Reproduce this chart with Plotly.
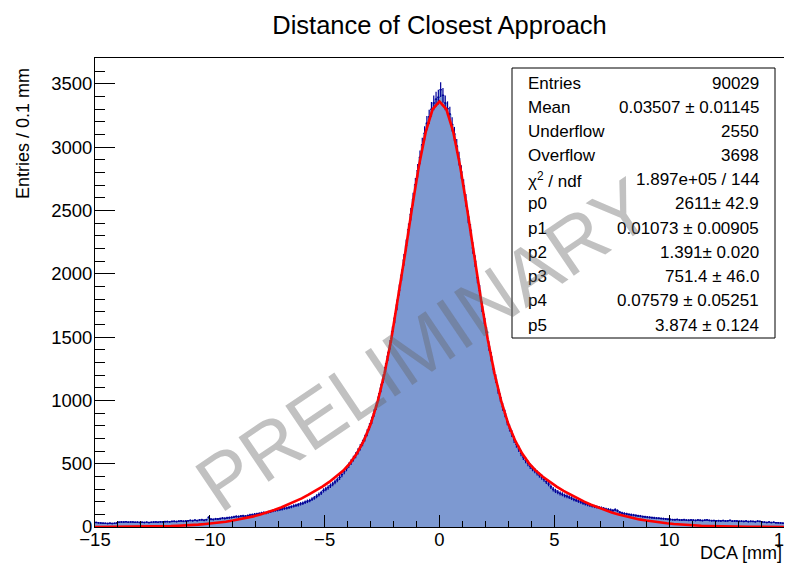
import numpy as np
import plotly.graph_objects as go

# ---------------- data ----------------
bin_lo, bin_hi, bin_w = -15.0, 15.0, 0.1

# counts per 0.1 mm bin, from -15 to 15 (300 bins, groups of 1 mm)
counts = [
    36, 33, 31, 30, 29, 28, 30, 28, 29, 32,
    38, 40, 39, 41, 38, 40, 39, 37, 38, 36,
    37, 36, 38, 35, 37, 39, 40, 38, 41, 40,
    42, 43, 41, 44, 45, 43, 46, 48, 45, 47,
    49, 52, 50, 54, 51, 55, 57, 53, 58, 76,
    62, 60, 64, 63, 66, 70, 68, 72, 74, 76,
    79, 83, 82, 86, 88, 85, 90, 94, 97, 100,
    103, 106, 110, 113, 112, 118, 122, 127, 131, 135,
    139, 142, 148, 150, 155, 160, 166, 171, 176, 183,
    188, 196, 203, 209, 220, 230, 243, 256, 270, 289,
    300, 312, 326, 340, 356, 372, 392, 414, 438, 462,
    488, 512, 540, 566, 597, 630, 664, 702, 745, 792,
    842, 900, 958, 1026, 1098, 1172, 1260, 1348, 1440, 1545,
    1650, 1755, 1872, 1990, 2110, 2225, 2350, 2470, 2590, 2705,
    2815, 2920, 3020, 3110, 3190, 3240, 3300, 3350, 3380, 3395,
    3455, 3410, 3350, 3305, 3262, 3180, 3105, 3010, 2910, 2805,
    2695, 2580, 2450, 2345, 2205, 2100, 1970, 1868, 1740, 1645,
    1540, 1430, 1345, 1248, 1172, 1085, 1022, 950, 896, 832,
    782, 738, 690, 652, 618, 583, 552, 526, 503, 480,
    462, 445, 428, 410, 394, 376, 358, 340, 318, 298,
    285, 275, 266, 258, 248, 243, 236, 228, 218, 212,
    205, 198, 190, 184, 178, 172, 166, 162, 158, 154,
    150, 146, 141, 138, 134, 130, 136, 128, 116, 110,
    106, 103, 99, 96, 94, 91, 88, 86, 82, 80,
    78, 76, 74, 72, 70, 69, 67, 66, 64, 62,
    60, 58, 57, 59, 56, 55, 57, 54, 53, 55,
    54, 52, 55, 53, 51, 54, 56, 52, 50, 51,
    49, 50, 48, 51, 47, 49, 52, 46, 48, 47,
    45, 46, 44, 47, 43, 45, 44, 42, 46, 44,
    40, 38, 36, 39, 35, 37, 34, 33, 32, 30,
]

# red fit curve, read at 101 points from -15 to 15 (step 0.3)
fit_curve = [
    0.4, 0.6, 0.8, 1.0, 1.3, 1.7, 2.3, 3, 4, 5,
    6, 8, 10, 12, 15, 19, 24, 29, 35, 42,
    51, 60, 72, 84, 99, 115, 134, 154, 176, 200,
    226, 255, 285, 319, 356, 397, 444, 503, 580, 680,
    811, 986, 1209, 1484, 1804, 2157, 2516, 2849, 3121, 3300,
    3362,
    3300, 3121, 2849, 2516, 2157, 1804, 1484, 1209, 986, 811,
    680, 580, 503, 444, 397, 356, 319, 285, 255, 226,
    200, 176, 154, 134, 115, 99, 84, 72, 60, 51,
    42, 35, 29, 24, 19, 15, 12, 10, 8, 6,
    5, 4, 3, 2.3, 1.7, 1.3, 1.0, 0.8, 0.6, 0.4,
]

stat_labels = ["Entries", "Mean", "Underflow", "Overflow", "χ<sup>2</sup> / ndf",
               "p0", "p1", "p2", "p3", "p4", "p5"]
stat_values = ["90029", "0.03507 ± 0.01145", "2550", "3698", "1.897e+05 / 144",
               "2611± 42.9", "0.01073 ± 0.00905", "1.391± 0.020", "751.4 ± 46.0",
               "0.07579 ± 0.05251", "3.874 ± 0.124"]

title = "Distance of Closest Approach"
x_title = "DCA [mm]"
y_title = "Entries / 0.1 mm"
watermark = "PRELIMINARY"

# ---------------- figure ----------------
counts_arr = np.array(counts, dtype=float)
n_bins = len(counts)
edges = bin_lo + bin_w * np.arange(n_bins + 1)
centers = edges[:-1] + bin_w / 2
fit_x = np.linspace(bin_lo, bin_hi, len(fit_curve))

FONT = "Liberation Sans, Arial, Helvetica, sans-serif"
FILL = "#7d99d1"
ERRC = "#000099"

fig = go.Figure()

# filled histogram (step)
fig.add_trace(go.Scatter(
    x=edges, y=np.append(counts_arr, counts_arr[-1]),
    mode="lines", line=dict(shape="hv", color=FILL, width=0.8),
    fill="tozeroy", fillcolor=FILL, hoverinfo="skip", showlegend=False))

# error bars
fig.add_trace(go.Scatter(
    x=centers, y=counts_arr, mode="markers",
    marker=dict(size=1.5, color=ERRC),
    error_y=dict(type="data", array=np.sqrt(counts_arr), width=0, thickness=1.2, color=ERRC),
    error_x=dict(type="constant", value=bin_w / 2, width=0, thickness=1.2, color=ERRC),
    showlegend=False))

# fit curve
fig.add_trace(go.Scatter(
    x=fit_x, y=fit_curve, mode="lines",
    line=dict(color="#ff0000", width=2.6), showlegend=False))

# page has an 8px body margin: figure drawn from (8, 8) in the window
OFF = 8
WIN_W, WIN_H = 792, 570
W, H = WIN_W - OFF, WIN_H - OFF
# plot frame in window pixels (reference)
FL, FR, FT, FB = 95, 784, 58, 527
L, R, T, B = FL - OFF, W - (FR - OFF), FT - OFF, H - (FB - OFF)
pw, ph = W - L - R, H - T - B


def px2x(px):  # window px -> paper
    return (px - FL) / pw


def px2y(py):
    return (FB - py) / ph


fig.update_layout(
    width=W, height=H,
    margin=dict(l=L, r=R, t=T, b=B, autoexpand=False),
    paper_bgcolor="white", plot_bgcolor="white",
    font=dict(family=FONT, color="black", size=18.5),
    showlegend=False,
    title=dict(text=title, x=0.5, xref="paper", xanchor="center",
               y=1 - (25 - OFF) / H, yref="container", yanchor="middle",
               font=dict(size=25.5, family=FONT, color="black")),
)

fig.update_xaxes(
    range=[bin_lo, bin_hi], showgrid=False, zeroline=False,
    showline=True, linecolor="black", linewidth=1, mirror=True,
    ticks="inside", ticklen=12, tickwidth=1, tickcolor="black",
    tick0=0, dtick=5, ticklabeloverflow="allow", ticklabelstandoff=-4,
    minor=dict(ticks="inside", ticklen=6, tickwidth=1, tickcolor="black", dtick=1),
    tickfont=dict(size=18.5, family=FONT),
)
fig.update_yaxes(
    range=[0, 3705], showgrid=False, zeroline=False,
    showline=True, linecolor="black", linewidth=1, mirror=True,
    ticks="inside", ticklen=20, tickwidth=1, tickcolor="black",
    tick0=0, dtick=500, ticklabelstandoff=-2,
    minor=dict(ticks="inside", ticklen=10, tickwidth=1, tickcolor="black", dtick=100),
    tickfont=dict(size=18.5, family=FONT),
)

annotations = []
# axis titles
annotations.append(dict(text=x_title, xref="paper", yref="paper",
                        x=px2x(784), y=px2y(553), xanchor="right", yanchor="middle",
                        showarrow=False, font=dict(size=18, family=FONT)))
annotations.append(dict(text=y_title, xref="paper", yref="paper",
                        x=px2x(23), y=px2y(134), xanchor="center", yanchor="middle",
                        textangle=-90, showarrow=False, font=dict(size=18, family=FONT)))

# stat box
box_l, box_r, box_t, box_b = 512, 775, 68, 338
fig.add_shape(type="rect", xref="paper", yref="paper",
              x0=px2x(box_l), x1=px2x(box_r), y0=px2y(box_b), y1=px2y(box_t),
              line=dict(color="black", width=1), fillcolor="white", layer="above")
for i, (lab, val) in enumerate(zip(stat_labels, stat_values)):
    yy = px2y(83 + 24.2 * i)
    annotations.append(dict(text=lab, xref="paper", yref="paper", x=px2x(526), y=yy,
                            xanchor="left", yanchor="middle", showarrow=False,
                            font=dict(size=17, family=FONT)))
    annotations.append(dict(text=val, xref="paper", yref="paper", x=px2x(761), y=yy,
                            xanchor="right", yanchor="middle", showarrow=False,
                            font=dict(size=17, family=FONT)))

# watermark
annotations.append(dict(text=watermark, xref="paper", yref="paper",
                        x=px2x(423), y=px2y(345), xanchor="center", yanchor="middle",
                        textangle=-34, showarrow=False,
                        font=dict(size=78, family=FONT, color="rgba(100,100,100,0.4)")))

fig.update_layout(annotations=annotations)

fig.write_html("out.html")
